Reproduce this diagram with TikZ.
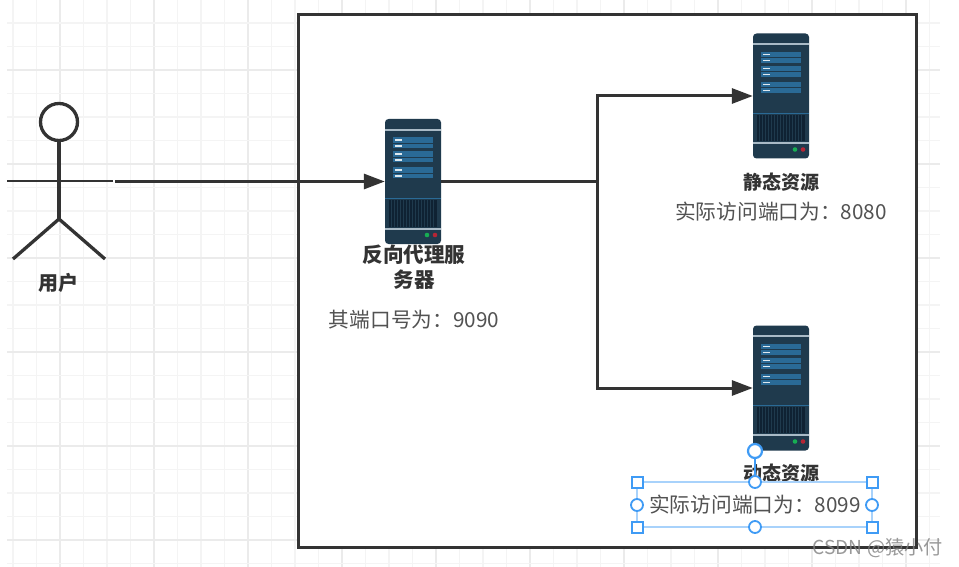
\documentclass[tikz,border=0pt]{standalone}
\usepackage{fontspec}
\setmainfont{Noto Sans CJK SC}
\usetikzlibrary{arrows.meta,calc}
\definecolor{ink}{HTML}{333333}
\definecolor{srvdark}{HTML}{1F3A4D}
\definecolor{srvblue}{HTML}{2A6A96}
\definecolor{srvblack}{HTML}{0F2233}
\definecolor{srvline}{HTML}{A9BAC6}
\definecolor{sel}{HTML}{3F9BF5}
\definecolor{sellight}{HTML}{A8D2FB}
\definecolor{gridminor}{HTML}{F4F4F4}
\definecolor{gridmajor}{HTML}{EBEBEB}
\tikzset{
  server/.style={draw=none,fill=srvdark,rounded corners=3.5pt,minimum width=56pt,minimum height=125pt,inner sep=0pt},
  conn/.style={draw=ink,line width=3pt,-{Triangle[length=21pt,width=15pt]}},
  plainline/.style={draw=ink,line width=3pt},
  actorline/.style={draw=ink,line width=3.3pt},
  boldlabel/.style={font=\bfseries\fontsize{19}{24}\selectfont,text=ink,inner sep=0pt,align=center},
  titlelabel/.style={font=\bfseries\fontsize{20.6}{25}\selectfont,text=ink,inner sep=0pt,align=center},
  portlabel/.style={font=\fontsize{20.7}{24}\selectfont,text=ink!85,inner sep=0pt},
  handlesq/.style={draw=sel,fill=white,line width=2pt,minimum size=11pt,inner sep=0pt},
  handlecirc/.style={draw=sel,fill=white,circle,line width=1.8pt,minimum size=12pt,inner sep=0pt},
  server details/.pic={
    \fill[srvline] (-28,-52.8) rectangle (28,-50.8);
    \foreach \a/\b in {-44/-33,-30/-19,-14/-3}{
      \fill[srvblue] (-20,\a) rectangle (20,\b);
      \fill[srvdark] (-20,{(\a+\b)/2-0.4}) rectangle (20,{(\a+\b)/2+0.4});
    }
    \foreach \y in {-41.5,-35.5,-27.5,-21.5,-11.5,-5.5}{
      \fill[white!85!srvblue] (-18,\y-0.9) rectangle (-11,\y+0.9);
    }
    \draw[srvblue,line width=0.8pt] (-28,17) -- (28,17);
    \fill[srvblack] (-24,19) rectangle (24,45);
    \foreach \x in {-22,-19,...,22}{\draw[srvdark,line width=0.7pt] (\x,19) -- (\x,45);}
    \fill[srvline] (-28,46) rectangle (28,48);
    \fill[green!45!srvblue] (14,53.5) circle (2.3);
    \fill[red!65!srvblue] (22,53.5) circle (2.3);
  }
}
\begin{document}
\begin{tikzpicture}[x=1pt,y=-1pt]
\useasboundingbox (0,0) rectangle (959,567);
\fill[white] (0,0) rectangle (959,567);
% grid
\foreach \i in {0,...,39}{
  \pgfmathsetmacro{\gx}{13+23.5*\i}
  \pgfmathtruncatemacro{\m}{mod(\i+2,4)}
  \ifnum\m=0 \draw[gridmajor,line width=1.5pt] (\gx,0) -- (\gx,567);
  \else \draw[gridminor,line width=1.5pt] (\gx,0) -- (\gx,567);\fi
}
\foreach \i in {0,...,23}{
  \pgfmathsetmacro{\gy}{23+23.5*\i}
  \pgfmathtruncatemacro{\m}{mod(\i+2,4)}
  \ifnum\m=0 \draw[gridmajor,line width=1.5pt] (7,\gy) -- (940,\gy);
  \else \draw[gridminor,line width=1.5pt] (7,\gy) -- (940,\gy);\fi
}
% frame
\node[draw=ink,line width=3pt,fill=white,minimum width=618pt,minimum height=532pt,inner sep=0pt] (frame) at (607,281) {};
% actor
\node[draw=ink,line width=3.3pt,fill=white,circle,minimum size=37pt,inner sep=0pt] (head) at (59,122) {};
\coordinate (hip) at (59,219);
\coordinate (armL) at (7,181);
\coordinate (armR) at (113,181);
\coordinate (footL) at (13,259);
\coordinate (footR) at (105,259);
\coordinate (start) at (115,181.5);
\draw[actorline] (head.south) -- (hip);
\draw[actorline,line width=2.8pt] (armL) -- (armR);
\draw[actorline,line join=round] (footL) -- (hip) -- (footR);
\node[boldlabel,font=\bfseries\fontsize{20}{24}\selectfont] (user) at (58.5,282.5) {用户};
% servers
\node[server] (proxy) at (413,181.5) {};
\pic at (proxy.center) {server details};
\node[server] (static) at (781,96) {};
\pic at (static.center) {server details};
\node[server] (dynamic) at (781,388) {};
\pic at (dynamic.center) {server details};
\coordinate (junction) at (597,181.5);
% connectors
\draw[conn] (start) -- (proxy.west);
\draw[plainline,line width=3.6pt] (proxy.east) -- (junction);
\draw[conn] (junction) |- (static.west);
\draw[conn] (junction) |- (dynamic.west);
% labels
\node[titlelabel] (proxytitle) at (414,267.5) {反向代理服\\务器};
\node[portlabel] (proxyport) at (414,319.5) {其端口号为：9090};
\node[boldlabel] (statictitle) at (781.5,182.5) {静态资源};
\node[portlabel] (staticport) at (781,211.5) {实际访问端口为：8080};
\node[boldlabel] (dyntitle) at (781.5,473.5) {动态资源};
\node[portlabel] (dynport) at (755,505) {实际访问端口为：8099};
% selection
\node[draw=sellight,line width=2pt,minimum width=235pt,minimum height=45pt,inner sep=0pt] (selbox) at (754.5,504.5) {};
\node[handlecirc,minimum size=14pt,line width=2.2pt] (rot) at (755,451) {};
\node[handlecirc] (hT) at (755,482) {};
\draw[sel,line width=1.5pt] (rot) -- (hT);
\node[handlecirc] (hB) at (755,527) {};
\node[handlecirc] (hL) at (637,505) {};
\node[handlecirc] (hR) at (872,505) {};
\node[handlesq] (h1) at (637,482) {};
\node[handlesq] (h2) at (872,482) {};
\node[handlesq] (h3) at (637,527) {};
\node[handlesq] (h4) at (872,527) {};
% watermark
\node[font=\fontsize{19.2}{22}\selectfont,text=gray,opacity=.8,inner sep=0pt,anchor=east] (wm) at (943,548) {CSDN @猿小付};
\end{tikzpicture}
\end{document}
